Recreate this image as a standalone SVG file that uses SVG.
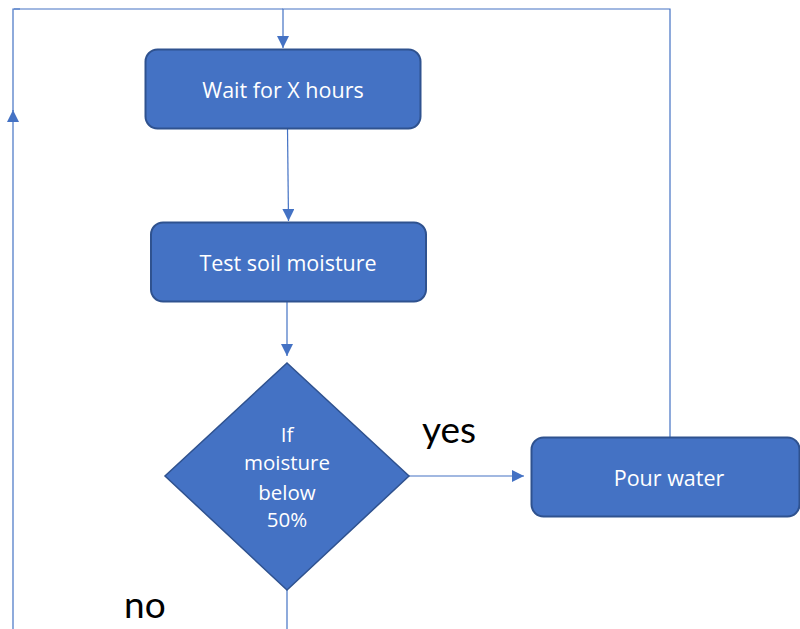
<svg xmlns="http://www.w3.org/2000/svg" width="800" height="629" viewBox="0 0 800 629">
<defs>
<style>
.box{fill:#4472C4;stroke:#2F528F;stroke-width:2}
.lbl{font-family:"Open Sans","Noto Sans",sans-serif;font-size:21.5px;fill:#FFFFFF;text-anchor:middle}
.dlbl{font-size:20.5px}
.cap{font-family:Lato,"Liberation Sans",sans-serif;font-size:37px;fill:#000000}
.conn{stroke:#4472C4;stroke-width:1.2;fill:none}
</style>
<marker id="ah" markerWidth="12" markerHeight="12" refX="12" refY="6" orient="auto" markerUnits="userSpaceOnUse">
<path d="M0,0 L12,6 L0,12 Z" fill="#4472C4"/>
</marker>
</defs>
<rect width="800" height="629" fill="#FFFFFF"/>
<g id="connectors">
<path class="conn" d="M670,437 L670,9 L283,9 L283,48" marker-end="url(#ah)"/>
<path class="conn" d="M14,9 L283,9"/>
<path class="conn" d="M13,629 L13,110" marker-end="url(#ah)"/>
<path class="conn" d="M13,111 L13,9 L20,9"/>
<path class="conn" d="M287.5,128 L288.5,221" marker-end="url(#ah)"/>
<path class="conn" d="M287,302 L287,356" marker-end="url(#ah)"/>
<path class="conn" d="M409,476 L524,476" marker-end="url(#ah)"/>
<path class="conn" d="M287,590 L287,629"/>
</g>
<g id="wait">
<rect class="box" x="145.5" y="49.5" width="275" height="79" rx="12"/>
<text class="lbl" x="283" y="98">Wait for X hours</text>
</g>
<g id="test">
<rect class="box" x="151" y="222.5" width="275" height="79" rx="12"/>
<text class="lbl" x="288" y="271">Test soil moisture</text>
</g>
<g id="decision">
<polygon class="box" points="287,363 409,476 287,590 165,476" style="stroke-width:1.5"/>
<text class="lbl dlbl" x="287" y="442">If</text>
<text class="lbl dlbl" x="287" y="470">moisture</text>
<text class="lbl dlbl" x="287" y="500">below</text>
<text class="lbl dlbl" x="287" y="527">50%</text>
</g>
<g id="pour">
<rect class="box" x="531.5" y="437.5" width="268" height="79" rx="12"/>
<text class="lbl" x="669" y="486">Pour water</text>
</g>
<text class="cap" x="422" y="443">yes</text>
<text class="cap" x="124" y="618">no</text>
</svg>
